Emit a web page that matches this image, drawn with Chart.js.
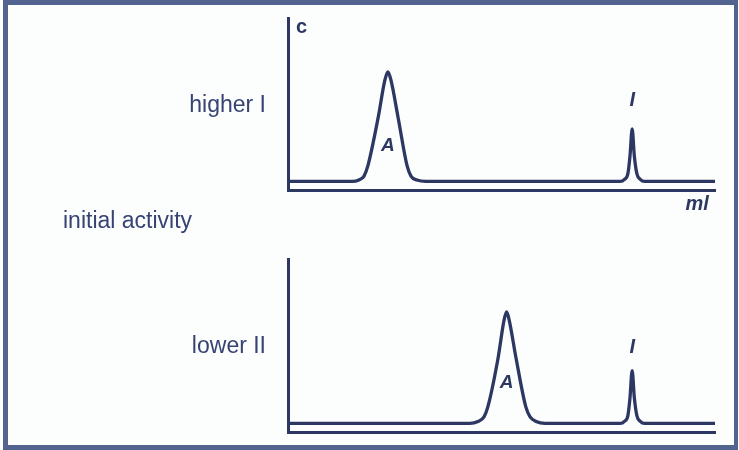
<!DOCTYPE html>
<html>
<head>
<meta charset="utf-8">
<script src="https://cdn.jsdelivr.net/npm/chart.js@4.4.1/dist/chart.umd.min.js"></script>
<style>
  html, body { margin: 0; padding: 0; background: #fcfdfd; }
  #wrap { position: relative; width: 739px; height: 450px; overflow: hidden; background: #fcfdfd; }
  #frame {
    position: absolute; left: 3px; top: 0; width: 735px; height: 450px;
    box-sizing: border-box; border: 5px solid #53638f; border-left-width: 5px; border-right-width: 4px;
    pointer-events: none;
  }
  canvas { position: absolute; left: 0; }
  #top { top: 0; }
  #bottom { top: 245px; }
</style>
</head>
<body>
<div id="wrap">
  <canvas id="top" width="739" height="245"></canvas>
  <canvas id="bottom" width="739" height="205"></canvas>
  <div id="frame"></div>
</div>
<script>
// Elution profiles: effluent volume (ml, 0–100 along the axis) vs. concentration c (0–100)
const mlHigher = [0.5, 15.0, 16.6, 17.8, 18.7, 21.1, 22.7, 23.4, 24.1, 25.8, 27.9, 28.8, 30.2, 32.3,
                  77.8, 78.8, 79.6, 80.1, 80.6, 81.1, 81.7, 82.5, 83.5, 100];
const cHigher  = [5, 5, 5.8, 8.1, 14.0, 41.9, 64.0, 68.6, 64.0, 41.9, 14.0, 8.1, 5.8, 5,
                  5, 6.2, 9.5, 20, 35.5, 20, 9.5, 6.2, 5, 5];

const mlLower  = [0.5, 42.6, 44.5, 45.9, 46.8, 49.2, 50.6, 51.2, 51.8, 53.4, 55.7, 56.7, 58.1, 60.2,
                  77.8, 78.8, 79.6, 80.1, 80.6, 81.1, 81.7, 82.5, 83.5, 100];
const cLower   = [5, 5, 6.1, 8.7, 14.5, 42.8, 64.7, 69.4, 64.7, 42.8, 14.5, 8.7, 6.1, 5,
                  5, 6.2, 9.5, 20, 35.5, 20, 9.5, 6.2, 5, 5];

// Peak names and row captions
const peakNames   = ['A', 'I'];
const rowCaptions = ['higher I', 'lower II'];
const middleCaption = 'initial activity';
const axisNames = { y: 'c', x: 'ml' };

const INK  = '#2c3762';
const TEXT = '#374373';
const FONT = '"Liberation Sans", Arial, Helvetica, sans-serif';

function toPoints(xs, ys) { return xs.map((x, i) => ({ x: x, y: ys[i] })); }

// Index of the tallest point inside a volume window
function apexIndex(xs, ys, lo, hi) {
  let best = -1;
  xs.forEach((x, i) => { if (x >= lo && x <= hi && (best < 0 || ys[i] > ys[best])) best = i; });
  return best;
}

function labelPlugin(items) {
  return {
    id: 'labels',
    afterDraw(chart) {
      const ctx = chart.ctx, xs = chart.scales.x, ys = chart.scales.y, area = chart.chartArea;
      items.forEach(it => {
        ctx.save();
        ctx.font = it.font;
        ctx.fillStyle = it.color || TEXT;
        ctx.textAlign = it.align || 'center';
        ctx.textBaseline = 'middle';
        const x = it.px !== undefined ? it.px : xs.getPixelForValue(it.x);
        const y = it.py !== undefined ? (typeof it.py === 'function' ? it.py(area) : it.py) : ys.getPixelForValue(it.y);
        ctx.fillText(it.text, x, y);
        ctx.restore();
      });
    }
  };
}

function makeOptions(pad) {
  return {
    responsive: false,
    animation: false,
    devicePixelRatio: 1,
    layout: { padding: pad },
    plugins: { legend: { display: false }, tooltip: { enabled: false } },
    elements: {
      point: { radius: 0, hoverRadius: 0 },
      line: { borderWidth: 3.3, borderColor: INK, fill: false, cubicInterpolationMode: 'monotone',
              borderJoinStyle: 'round', borderCapStyle: 'round' }
    },
    scales: {
      x: {
        type: 'linear', min: 0, max: 100,
        grid: { display: false, drawTicks: false },
        ticks: { display: false },
        border: { display: true, color: INK, width: 3 },
        afterFit(s) { s.height = 0; }
      },
      y: {
        type: 'linear', min: 0, max: 100,
        grid: { display: false, drawTicks: false },
        ticks: { display: false },
        border: { display: true, color: INK, width: 3 },
        afterFit(s) { s.width = 0; }
      }
    }
  };
}

const aTop = apexIndex(mlHigher, cHigher, 0, 60);
const iTop = apexIndex(mlHigher, cHigher, 60, 100);
const aBot = apexIndex(mlLower, cLower, 0, 70);
const iBot = apexIndex(mlLower, cLower, 70, 100);

new Chart(document.getElementById('top'), {
  type: 'line',
  data: { datasets: [{ data: toPoints(mlHigher, cHigher) }] },
  options: makeOptions({ left: 288, right: 24, top: 18, bottom: 55 }),
  plugins: [labelPlugin([
    { text: axisNames.y, px: 296, py: 27, align: 'left', font: 'bold 20px ' + FONT, color: INK },
    { text: rowCaptions[0], px: 266, py: 106, align: 'right', font: '23px ' + FONT },
    { text: peakNames[0], x: mlHigher[aTop], y: 26, font: 'italic bold 19px ' + FONT, color: INK },
    { text: peakNames[1], x: mlHigher[iTop], y: 52, font: 'italic bold 20px ' + FONT, color: INK },
    { text: axisNames.x, x: 95.8, py: a => a.bottom + 14, font: 'italic bold 20px ' + FONT, color: INK },
    { text: middleCaption, px: 63, py: 222, align: 'left', font: '23px ' + FONT }
  ])]
});

new Chart(document.getElementById('bottom'), {
  type: 'line',
  data: { datasets: [{ data: toPoints(mlLower, cLower) }] },
  options: makeOptions({ left: 288, right: 24, top: 14, bottom: 18 }),
  plugins: [labelPlugin([
    { text: rowCaptions[1], px: 266, py: 102, align: 'right', font: '23px ' + FONT },
    { text: peakNames[0], x: mlLower[aBot], y: 28.3, font: 'italic bold 19px ' + FONT, color: INK },
    { text: peakNames[1], x: mlLower[iBot], y: 49, font: 'italic bold 20px ' + FONT, color: INK }
  ])]
});
</script>
</body>
</html>
